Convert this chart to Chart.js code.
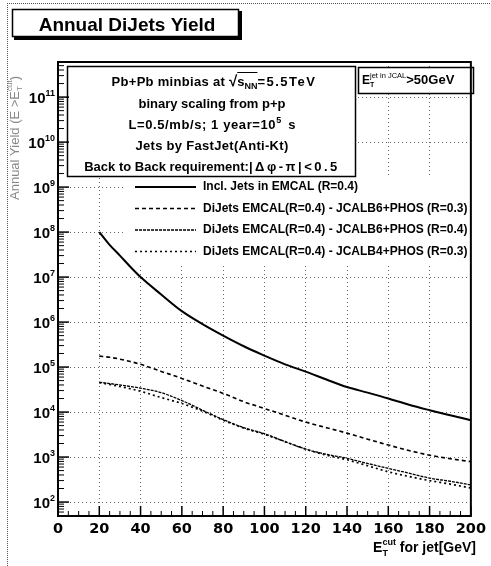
<!DOCTYPE html>
<html><head><meta charset="utf-8">
<script src="https://cdn.jsdelivr.net/npm/chart.js@4.4.0/dist/chart.umd.min.js"></script>
<style>html,body{margin:0;padding:0;background:#fff;}#wrap{width:491px;height:566px;}</style>
</head><body><div id="wrap"><canvas id="c" width="491" height="566"></canvas></div>
<script>
// ---- data ----
const etCut      = [20,25,30,35,40,50,60,70,80,90,100,110,120,130,140,150,160,170,180,190,200];
const inclJets   = [1e8,5.2e7,3e7,1.7e7,1e7,4.1e6,1.75e6,9e5,5e5,2.9e5,1.8e5,1.15e5,7.9e4,5.3e4,3.6e4,2.7e4,2e4,1.45e4,1.1e4,8.5e3,6.6e3];
const dijB6R03   = [1.75e5,1.65e5,1.5e5,1.33e5,1.15e5,8e4,5.6e4,3.8e4,2.6e4,1.7e4,1.2e4,8.5e3,6e3,4.5e3,3.4e3,2.5e3,1.85e3,1.4e3,1.1e3,920,790];
const dijB6R04   = [4.6e4,4.3e4,4e4,3.7e4,3.4e4,2.7e4,1.8e4,1.1e4,6.8e3,4.5e3,3.3e3,2.2e3,1.5e3,1.15e3,940,720,560,440,340,290,240];
const dijB4R03   = [4.5e4,4.1e4,3.7e4,3.3e4,2.9e4,2.1e4,1.55e4,1.05e4,6.6e3,4.4e3,3.2e3,2.2e3,1.5e3,1.1e3,870,640,470,370,300,250,205];
const seriesLabels = [
  'Incl. Jets in EMCAL (R=0.4)',
  'DiJets EMCAL(R=0.4) - JCALB6+PHOS (R=0.3)',
  'DiJets EMCAL(R=0.4) - JCALB6+PHOS (R=0.4)',
  'DiJets EMCAL(R=0.4) - JCALB4+PHOS (R=0.3)'
];
const xTicks   = [0,20,40,60,80,100,120,140,160,180,200];
const yDecades = [2,3,4,5,6,7,8,9,10,11];
const xRange = [0,200];
const yRangeExp = [1.69,11.78];

const FF = '"Liberation Sans", Arial, Helvetica, sans-serif';
const styles = [
  {w:2.0, dash:[]},
  {w:1.6, dash:[4,3]},
  {w:1.3, dash:[3,1]},
  {w:1.7, dash:[2,3]}
];
const seriesVals = [inclJets, dijB6R03, dijB6R04, dijB4R03];

function rich(ctx, segs, x, y, align, color){
  let w = 0;
  const widths = segs.map(s=>{
    let sw;
    ctx.letterSpacing = (s.ls||0)+'px';
    if (s.stack){ ctx.font=s.supFont; const a=ctx.measureText(s.sup).width; ctx.font=s.subFont; const b=ctx.measureText(s.sub).width; sw=Math.max(a,b); }
    else { ctx.font=s.font; sw=ctx.measureText(s.t).width; }
    w+=sw; return sw;
  });
  let cx = align==='center'? x-w/2 : align==='right'? x-w : x;
  ctx.fillStyle = color||'#000';
  ctx.textBaseline='alphabetic'; ctx.textAlign='left';
  const pos=[];
  segs.forEach((s,i)=>{
    pos.push(cx);
    ctx.letterSpacing = (s.ls||0)+'px';
    if (s.stack){ ctx.font=s.supFont; ctx.fillText(s.sup,cx,y+s.supDy); ctx.font=s.subFont; ctx.fillText(s.sub,cx,y+s.subDy); }
    else { ctx.font=s.font; ctx.fillText(s.t,cx,y+(s.dy||0)); }
    cx+=widths[i];
  });
  ctx.letterSpacing='0px';
  return {pos,widths};
}

const deco = {
  id:'deco',
  beforeDraw(chart){
    const ctx=chart.ctx;
    ctx.save();
    ctx.fillStyle='#fff'; ctx.fillRect(0,0,chart.width,chart.height);
    ctx.strokeStyle='#555'; ctx.lineWidth=1; ctx.setLineDash([1,1]);
    ctx.beginPath(); ctx.moveTo(7.5,3); ctx.lineTo(7.5,566); ctx.moveTo(7,3.5); ctx.lineTo(491,3.5); ctx.stroke();
    ctx.setLineDash([]);
    ctx.fillStyle='#000'; ctx.fillRect(14,11,228,29);
    ctx.fillStyle='#fff'; ctx.fillRect(12,9,227,28);
    ctx.strokeStyle='#000'; ctx.lineWidth=1.5; ctx.strokeRect(12.5,9.5,226,27);
    ctx.font='bold 19px '+FF; ctx.fillStyle='#000'; ctx.textAlign='center'; ctx.textBaseline='alphabetic';
    ctx.fillText('Annual DiJets Yield',127,31);
    ctx.restore();
  },
  beforeDatasetsDraw(chart){
    const ctx=chart.ctx; ctx.save(); ctx.fillStyle='#fff';
    ctx.fillRect(125,177,349,86);
    ctx.fillRect(67,66,289,111);
    ctx.fillRect(358,67,116,27);
    ctx.restore();
  },
  afterDatasetsDraw(chart){
    const ctx=chart.ctx, a=chart.chartArea, xs=chart.scales.x, ys=chart.scales.y;
    ctx.save();
    ctx.strokeStyle='#000';
    for (let v=xRange[0]; v<=xRange[1]; v+=5){
      const px=xs.getPixelForValue(v), major = xTicks.includes(v);
      ctx.lineWidth = major?1.5:1;
      ctx.beginPath(); ctx.moveTo(px,a.bottom); ctx.lineTo(px,a.bottom-(major?10:5)); ctx.stroke();
    }
    for (let e=1; e<=11; e++){
      for (let k=1;k<=9;k++){
        const v=k*Math.pow(10,e); const py=ys.getPixelForValue(v);
        if (py<a.top||py>a.bottom) continue;
        ctx.lineWidth = k===1?1.5:1;
        ctx.beginPath(); ctx.moveTo(a.left,py); ctx.lineTo(a.left+(k===1?11:6),py); ctx.stroke();
      }
    }
    ctx.lineWidth=2; ctx.strokeRect(a.left,a.top,a.right-a.left,a.bottom-a.top);
    yDecades.forEach(e=>{
      const py=ys.getPixelForValue(Math.pow(10,e));
      rich(ctx,[{t:'10',font:'bold 15px '+FF},{t:String(e),font:'bold 9px '+FF,dy:-7}],55,py+6,'right');
    });
    // info box
    ctx.lineWidth=1.5; ctx.strokeStyle='#000';
    ctx.strokeRect(67.5,66.5,288,110);
    const bf='bold 13px '+FF, sf='bold 9px '+FF;
    const r1=rich(ctx,[{t:'Pb+Pb minbias at ',font:bf,ls:0.3},{t:'\u221A',font:'bold 15px '+FF},{t:'s',font:bf},{t:'NN',font:sf,dy:3},{t:'=5.5TeV',font:bf,ls:1.5}],214,86,'center');
    ctx.lineWidth=1; ctx.beginPath(); ctx.moveTo(r1.pos[2],72.5); ctx.lineTo(r1.pos[3]+r1.widths[3],72.5); ctx.stroke();
    rich(ctx,[{t:'binary scaling from p+p',font:bf}],212,108,'center');
    rich(ctx,[{t:'L=0.5/mb/s; 1 year=10',font:bf,ls:0.6},{t:'5',font:sf,dy:-6},{t:'  s',font:bf}],212,129,'center');
    rich(ctx,[{t:'Jets by FastJet(Anti-Kt)',font:bf,ls:0.3}],212,150,'center');
    rich(ctx,[{t:'Back to Back requirement:',font:bf},{t:'|\u0394\u03C6-\u03C0|<0.5',font:bf,ls:2.5}],212,171,'center');
    // cut box
    ctx.lineWidth=1.5; ctx.strokeRect(358.5,67.5,115,26);
    rich(ctx,[{t:'E',font:'bold 12px '+FF},{stack:true,sup:'jet in JCAL',sub:'T',supFont:'7.5px '+FF,subFont:'bold 7px '+FF,supDy:-6,subDy:3},{t:'>50GeV',font:'bold 13px '+FF}],362,84,'left');
    // legend
    chart.data.datasets.forEach((ds,i)=>{
      const ly=187+i*21.5;
      ctx.save(); ctx.strokeStyle='#000'; ctx.lineWidth=ds.borderWidth; ctx.setLineDash(ds.borderDash||[]);
      ctx.beginPath(); ctx.moveTo(135,ly); ctx.lineTo(196,ly); ctx.stroke(); ctx.restore();
      ctx.font='bold 12px '+FF; ctx.fillStyle='#000'; ctx.textAlign='left'; ctx.textBaseline='middle';
      ctx.fillText(ds.label,203,ly);
    });
    rich(ctx,[{t:'E',font:'bold 14px '+FF},{stack:true,sup:'cut',sub:'T',supFont:'bold 9px '+FF,subFont:'bold 9px '+FF,supDy:-7,subDy:4},{t:' for jet[GeV]',font:'bold 14px '+FF}],476,552,'right');
    ctx.save(); ctx.translate(19,138); ctx.rotate(-Math.PI/2);
    rich(ctx,[{t:'Annual Yield (E >E',font:'13px '+FF},{stack:true,sup:'cut',sub:'T',supFont:'8px '+FF,subFont:'8px '+FF,supDy:-7,subDy:3},{t:')',font:'13px '+FF}],0,0,'center','#888');
    ctx.restore();
    ctx.restore();
  }
};

new Chart(document.getElementById('c'),{
  type:'line',
  data:{datasets: seriesVals.map((arr,i)=>({
    label: seriesLabels[i],
    data: etCut.map((x,j)=>({x, y:arr[j]})),
    borderColor:'#000', borderWidth:styles[i].w, borderDash:styles[i].dash,
    pointRadius:0, fill:false, cubicInterpolationMode:'monotone'
  }))},
  options:{
    responsive:false, animation:false, devicePixelRatio:1,
    layout:{padding:{top:62,right:16,left:0,bottom:0}},
    plugins:{legend:{display:false},tooltip:{enabled:false}},
    scales:{
      x:{type:'linear',min:xRange[0],max:xRange[1],
        afterBuildTicks:s=>{s.ticks=xTicks.map(v=>({value:v}));},
        afterFit:s=>{s.height=50;},
        ticks:{font:{family:'"DejaVu Sans", sans-serif',weight:'bold',size:14.5},color:'#000',padding:5,maxRotation:0},
        grid:{color:'rgba(0,0,0,0.6)',lineWidth:1,drawTicks:false},
        border:{display:false,dash:[1,3]}
      },
      y:{type:'logarithmic',min:Math.pow(10,yRangeExp[0]),max:Math.pow(10,yRangeExp[1]),
        afterBuildTicks:s=>{s.ticks=yDecades.map(e=>({value:Math.pow(10,e)}));},
        afterFit:s=>{s.width=58;},
        ticks:{display:false},
        grid:{color:'rgba(0,0,0,0.6)',lineWidth:1,drawTicks:false},
        border:{display:false,dash:[1,3]}
      }
    }
  },
  plugins:[deco]
});
</script></body></html>
